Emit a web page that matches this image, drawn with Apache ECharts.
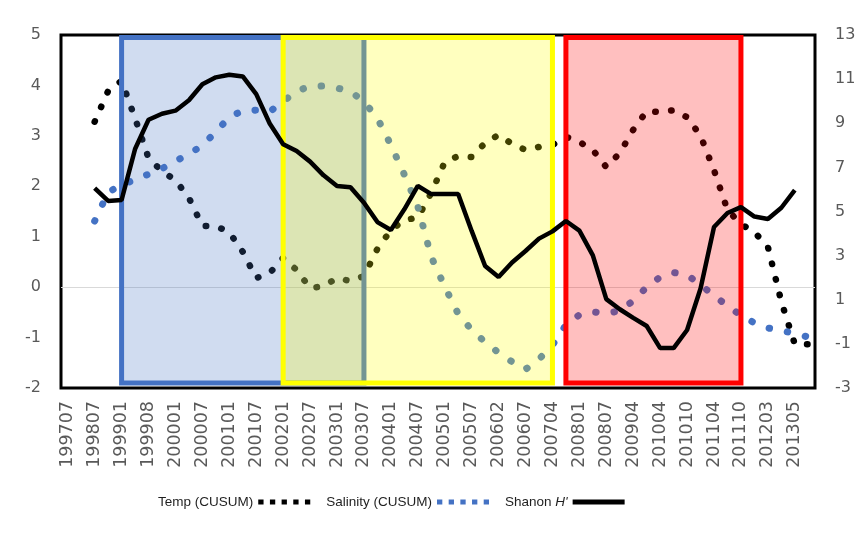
<!DOCTYPE html>
<html>
<head>
<meta charset="utf-8">
<script src="https://cdn.jsdelivr.net/npm/echarts@6/dist/echarts.min.js"></script>
<style>
  html, body { margin: 0; padding: 0; background: #ffffff; }
  #chart { width: 864px; height: 541px; }
</style>
</head>
<body>
<div id="chart"></div>
<script>
// Sampling dates (every second one is labelled on the axis)
const categories = [
  '199707', '199801', '199807', '199810', '199901', '199904', '199908', '199910',
  '200001', '200004', '200007', '200010', '200101', '200104', '200107', '200110',
  '200201', '200204', '200207', '200210', '200301', '200304', '200307', '200310',
  '200401', '200404', '200407', '200410', '200501', '200504', '200507', '200510',
  '200602', '200604', '200607', '200610', '200704', '200710', '200801', '200804',
  '200807', '200810', '200904', '200910', '201004', '201007', '201010', '201101',
  '201104', '201107', '201110', '201201', '201203', '201210', '201305', '201310'
];

// Temperature CUSUM (left axis)
const tempCusum = [
  null, null, 3.28, 3.89, 4.09, 3.35, 2.56, 2.30, 2.12, 1.77,
  1.21, 1.21, 1.09, 0.70, 0.18, 0.28, 0.58, 0.34, -0.02, 0.02,
  0.18, 0.12, 0.22, 0.76, 1.13, 1.33, 1.38, 1.87, 2.48, 2.60,
  2.58, 2.86, 3.02, 2.84, 2.72, 2.78, 2.82, 2.98, 2.88, 2.72,
  2.38, 2.66, 3.12, 3.49, 3.47, 3.51, 3.37, 3.00, 2.32, 1.53,
  1.25, 1.09, 0.80, -0.29, -1.13, -1.13
];

// Salinity CUSUM (left axis)
const salinityCusum = [
  null, null, 1.31, 1.88, 2.03, 2.13, 2.24, 2.35, 2.50, 2.64,
  2.81, 3.08, 3.37, 3.50, 3.51, 3.48, 3.68, 3.89, 3.98, 3.99,
  3.95, 3.88, 3.68, 3.35, 2.82, 2.23, 1.60, 0.60, 0.01, -0.53,
  -0.85, -1.09, -1.30, -1.48, -1.63, -1.43, -1.15, -0.75, -0.55, -0.49,
  -0.52, -0.47, -0.27, 0.00, 0.20, 0.29, 0.24, 0.05, -0.17, -0.37,
  -0.56, -0.71, -0.81, -0.86, -0.92, -0.99
];

// Shannon diversity H' (right axis)
const shannonH = [
  null, null, 6.06, 5.48, 5.52, 7.83, 9.16, 9.43, 9.57, 10.04,
  10.77, 11.08, 11.20, 11.12, 10.32, 8.99, 8.05, 7.74, 7.26, 6.64,
  6.16, 6.10, 5.40, 4.52, 4.16, 5.10, 6.16, 5.79, 5.79, 5.79,
  4.12, 2.53, 2.03, 2.69, 3.21, 3.77, 4.10, 4.57, 4.13, 3.01,
  1.03, 0.57, 0.18, -0.19, -1.19, -1.19, -0.37, 1.51, 4.30, 4.93,
  5.20, 4.77, 4.66, 5.17, 5.97, null
];

// Highlighted periods (first and last sampling date of each box)
const periodStart = ['199901', '200201', '200710'];
const periodEnd   = ['200307', '200704', '201110'];
const periodColor = ['#4472c4', '#ffff00', '#ff0000'];
const PERIOD_TOP = 4.95;
const PERIOD_BOTTOM = -1.9;

const leftTicks = [-2, -1, 0, 1, 2, 3, 4, 5];

function rgba(hex, a) {
  const n = parseInt(hex.slice(1), 16);
  return 'rgba(' + (n >> 16) + ',' + ((n >> 8) & 255) + ',' + (n & 255) + ',' + a + ')';
}

const periodData = periodStart.map((s, i) => [
  categories.indexOf(s), categories.indexOf(periodEnd[i]), PERIOD_TOP, PERIOD_BOTTOM, i
]);

const chart = echarts.init(document.getElementById('chart'), null, { renderer: 'canvas' });

const axisFont = 'DejaVu Sans';
const labelGray = '#595959';
const squares = 'path://M0,0h5v5h-5z M11,0h5v5h-5z M22,0h5v5h-5z M33,0h5v5h-5z M44,0h5v5h-5z';

chart.setOption({
  animation: false,
  backgroundColor: '#ffffff',
  grid: {
    left: 61, right: 49, top: 35, bottom: 153,
    show: true, borderColor: '#000000', borderWidth: 3, backgroundColor: 'transparent'
  },
  legend: {
    left: 153, top: 490,
    align: 'right',
    itemWidth: 52, itemHeight: 5, itemGap: 16,
    symbolKeepAspect: false,
    textStyle: { fontFamily: 'Liberation Sans', fontSize: 13.5, color: '#1f1f1f',
      rich: {
        n: { fontFamily: 'Liberation Sans', fontSize: 13.5, color: '#1f1f1f' },
        i: { fontFamily: 'Liberation Sans', fontSize: 13.5, color: '#1f1f1f', fontStyle: 'italic' }
      }
    },
    formatter: function (name) {
      if (name === "Shanon H'") return "{n|Shanon }{i|H'}";
      return name;
    },
    data: [
      { name: 'Temp (CUSUM)', icon: squares },
      { name: 'Salinity (CUSUM)', icon: squares },
      { name: "Shanon H'", icon: 'path://M0,0h50v5h-50z' }
    ]
  },
  xAxis: {
    type: 'category',
    data: categories,
    boundaryGap: true,
    axisLine: { show: false },
    axisTick: { show: false },
    axisLabel: {
      interval: 1, rotate: 90, margin: 13,
      fontFamily: axisFont, fontSize: 17.5, color: labelGray
    },
    splitLine: { show: false }
  },
  yAxis: [
    {
      type: 'value', min: -2, max: 5, interval: 1,
      axisLine: { show: false }, axisTick: { show: false },
      axisLabel: { margin: 20, fontFamily: axisFont, fontSize: 16, color: labelGray },
      splitLine: {
        show: true,
        lineStyle: {
          width: 1,
          color: leftTicks.map(v => (v === 0 ? '#d9d9d9' : 'rgba(0,0,0,0)'))
        }
      }
    },
    {
      type: 'value', min: -3, max: 13, interval: 1,
      axisLine: { show: false }, axisTick: { show: false },
      axisLabel: {
        margin: 20, fontFamily: axisFont, fontSize: 16, color: labelGray,
        formatter: v => (Math.abs(v) % 2 === 1 ? String(v) : '')
      },
      splitLine: { show: false }
    }
  ],
  series: [
    {
      name: 'Temp (CUSUM)', type: 'line', yAxisIndex: 0,
      data: tempCusum, symbol: 'none', z: 2, color: '#000000',
      lineStyle: { color: '#000000', width: 6.5, type: [0.5, 15.5], cap: 'round' }
    },
    {
      name: 'Salinity (CUSUM)', type: 'line', yAxisIndex: 0,
      data: salinityCusum, symbol: 'none', z: 2, color: '#4472c4',
      lineStyle: { color: '#4472c4', width: 7, type: [0.5, 18], cap: 'round' }
    },
    {
      name: 'periods', type: 'custom', yAxisIndex: 0, z: 5, silent: true,
      encode: { x: [0, 1], y: [2, 3] },
      data: periodData,
      renderItem: function (params, api) {
        const p0 = api.coord([api.value(0), api.value(2)]);
        const p1 = api.coord([api.value(1), api.value(3)]);
        const c = periodColor[api.value(4)];
        return {
          type: 'rect',
          shape: { x: p0[0], y: p0[1], width: p1[0] - p0[0], height: p1[1] - p0[1] },
          style: { fill: rgba(c, 0.25), stroke: c, lineWidth: 5 }
        };
      }
    },
    {
      name: "Shanon H'", type: 'line', yAxisIndex: 1,
      data: shannonH, symbol: 'none', z: 10, color: '#000000',
      lineStyle: { color: '#000000', width: 4.5 }
    }
  ]
});
</script>
</body>
</html>
